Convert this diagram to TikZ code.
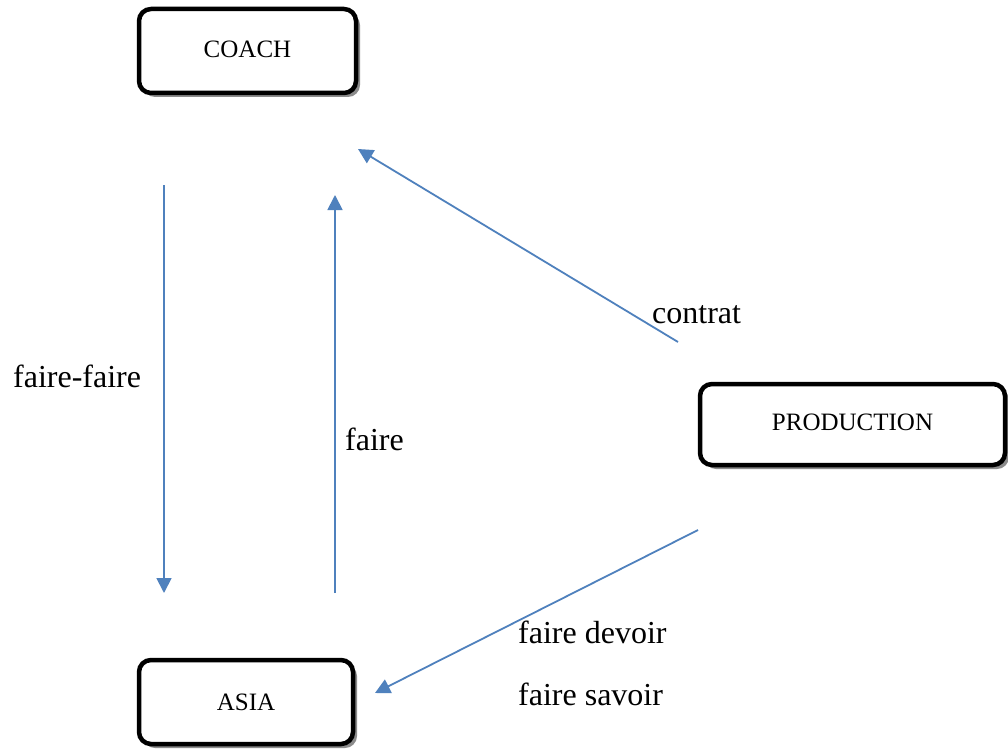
\documentclass[tikz,border=0pt]{standalone}
\usepackage{fontspec}
\setmainfont{Liberation Serif}
\usetikzlibrary{arrows.meta,shadows}
\definecolor{arrowblue}{RGB}{79,129,189}
\begin{document}
\begin{tikzpicture}[x=1pt,y=-1pt,
  box/.style={draw=black,line width=4.5pt,rounded corners=12pt,fill=white,
    drop shadow={shadow xshift=4pt,shadow yshift=-4pt,fill=black!45,opacity=1},
    font=\fontsize{25}{30}\selectfont,inner sep=0pt},
  link/.style={draw=arrowblue,line width=1.8pt,-{Triangle[length=15pt,width=15pt]}},
  lbl/.style={font=\fontsize{32}{38}\selectfont,inner sep=0pt,anchor=base west}]
\useasboundingbox[fill=white] (0,0) rectangle (1008,749);
\node[box,minimum width=217pt,minimum height=84pt] (coach) at (247.5,51) {\raisebox{4pt}{COACH}};
\node[box,minimum width=214pt,minimum height=84pt] (asia) at (246,702) {ASIA};
\node[box,minimum width=305pt,minimum height=81pt] (production) at (852.5,424.5) {\raisebox{5pt}{PRODUCTION}};
\coordinate (ffs) at (164,185);
\coordinate (ffe) at (164,593);
\coordinate (fs) at (335,593);
\coordinate (fe) at (335,195);
\coordinate (cs) at (678,342);
\coordinate (ce) at (358,149);
\coordinate (ds) at (698,530);
\coordinate (de) at (375,693);
\draw[link] (ffs) -- (ffe);
\draw[link] (fs) -- (fe);
\draw[link] (cs) -- (ce);
\draw[link] (ds) -- (de);
\node[lbl] (lff) at (13,387) {faire-faire};
\node[lbl] (lf) at (345,450) {faire};
\node[lbl] (lc) at (652,323) {contrat};
\node[lbl] (ld) at (518,643) {faire devoir};
\node[lbl] (ls) at (518,705) {faire savoir};
\end{tikzpicture}
\end{document}
